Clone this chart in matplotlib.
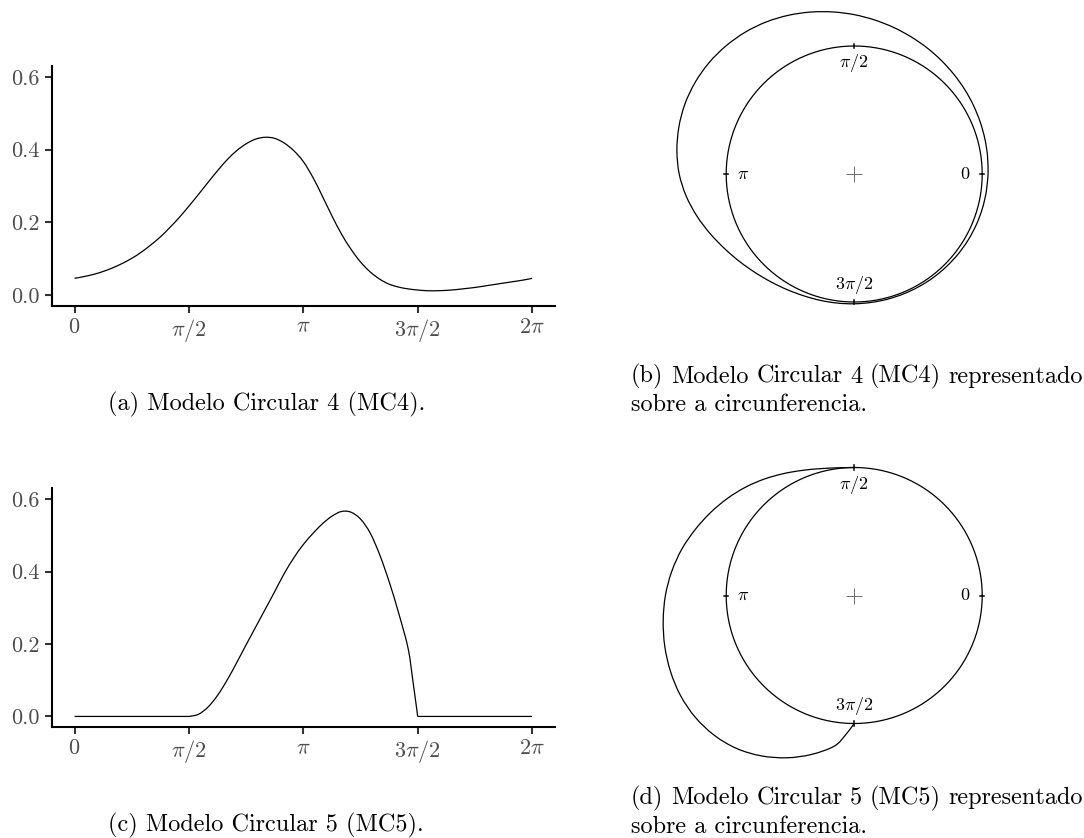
import numpy as np
import matplotlib
matplotlib.use("Agg")
import matplotlib.pyplot as plt
from matplotlib.path import Path
from matplotlib.patches import PathPatch

plt.rcParams['font.family'] = 'serif'
plt.rcParams['font.serif'] = ['cmr10']
plt.rcParams['mathtext.fontset'] = 'cm'
plt.rcParams['axes.formatter.use_mathtext'] = True

# densidades (angulo em radianos)
theta_mc4 = [0.000, 0.131, 0.262, 0.393, 0.524, 0.654, 0.785, 0.916, 1.047, 1.178,
             1.309, 1.440, 1.571, 1.702, 1.833, 1.963, 2.094, 2.225, 2.356, 2.487,
             2.618, 2.749, 2.880, 3.011, 3.142, 3.272, 3.403, 3.534, 3.665, 3.796,
             3.927, 4.058, 4.189, 4.320, 4.451, 4.581, 4.712, 4.843, 4.974, 5.105,
             5.236, 5.367, 5.498, 5.629, 5.760, 5.890, 6.021, 6.152, 6.283]
dens_mc4 = [0.046, 0.051, 0.057, 0.065, 0.075, 0.087, 0.101, 0.118, 0.138, 0.160,
            0.186, 0.214, 0.245, 0.277, 0.310, 0.342, 0.372, 0.397, 0.416, 0.429,
            0.434, 0.431, 0.418, 0.397, 0.367, 0.324, 0.272, 0.218, 0.168, 0.126,
            0.091, 0.064, 0.044, 0.030, 0.022, 0.017, 0.014, 0.012, 0.012, 0.013,
            0.015, 0.018, 0.021, 0.025, 0.029, 0.033, 0.037, 0.041, 0.046]

theta_mc5 = [0.000, 1.571, 1.702, 1.833, 1.963, 2.094, 2.225, 2.356, 2.487, 2.618,
             2.749, 2.880, 3.011, 3.142, 3.272, 3.403, 3.534, 3.665, 3.796, 3.927,
             4.058, 4.189, 4.320, 4.451, 4.581, 4.650, 4.712, 6.283]
dens_mc5 = [0.000, 0.000, 0.006, 0.026, 0.058, 0.100, 0.148, 0.198, 0.247, 0.296,
            0.345, 0.395, 0.438, 0.475, 0.505, 0.532, 0.553, 0.566, 0.564, 0.545,
            0.507, 0.447, 0.372, 0.285, 0.187, 0.092, 0.000, 0.000]

xticks = [0, np.pi / 2, np.pi, 3 * np.pi / 2, 2 * np.pi]
xticklabels = [r'$0$', r'$\pi/2$', r'$\pi$', r'$3\pi/2$', r'$2\pi$']
yticks = [0.0, 0.2, 0.4, 0.6]
yticklabels = ['0.0', '0.2', '0.4', '0.6']
circ_angles = [0, np.pi / 2, np.pi, 3 * np.pi / 2]
circ_labels = [r'$0$', r'$\pi/2$', r'$\pi$', r'$3\pi/2$']

captions = ['(a) Modelo Circular 4 (MC4).',
            '(b) Modelo Circular 4 (MC4) representado\nsobre a circunferencia.',
            '(c) Modelo Circular 5 (MC5).',
            '(d) Modelo Circular 5 (MC5) representado\nsobre a circunferencia.']

W, H = 1084, 838
fig = plt.figure(figsize=(W / 100, H / 100), dpi=100)


def px_axes(x0, y0, x1, y1):
    return fig.add_axes([x0 / W, 1 - y1 / H, (x1 - x0) / W, (y1 - y0) / H])


def trechos(th, d):
    # parte a serie nos pontos de densidade nula
    th, d = np.asarray(th), np.asarray(d)
    cortes = [0] + [i for i in range(1, len(d) - 1) if d[i] == 0] + [len(d) - 1]
    for a, b in zip(cortes[:-1], cortes[1:]):
        yield th[a:b + 1], d[a:b + 1]


def curva(ax, x, y, **kw):
    p = np.column_stack([x, y])
    n = len(p)
    verts, codes = [p[0]], [Path.MOVETO]
    for i in range(n - 1):
        pa = p[i - 1] if i > 0 else p[i]
        pb = p[i + 2] if i + 2 < n else p[i + 1]
        verts += [p[i] + (p[i + 1] - pa) / 6, p[i + 1] - (pb - p[i]) / 6, p[i + 1]]
        codes += [Path.CURVE4] * 3
    ax.add_patch(PathPatch(Path(verts, codes), fill=False, **kw))


def densidade(ax, th, d):
    for t, v in trechos(th, d):
        curva(ax, t, v, edgecolor='black', lw=0.9)
    ax.set_xlim(-0.05 * 2 * np.pi, 2 * np.pi * 1.05)
    ax.set_ylim(-0.03, 0.63)
    ax.set_xticks(xticks)
    ax.set_xticklabels(xticklabels)
    ax.set_yticks(yticks)
    ax.set_yticklabels(yticklabels)
    for s in ('top', 'right'):
        ax.spines[s].set_visible(False)
    for s in ('left', 'bottom'):
        ax.spines[s].set_linewidth(1.5)
        ax.spines[s].set_color('black')
    ax.tick_params(length=5, width=1.5, color='#333333', labelcolor='#4D4D4D',
                   labelsize=16)
    ax.tick_params(axis='y', pad=3.5)
    ax.tick_params(axis='x', pad=3)
    ax.patch.set_visible(False)


def circular(ax, th, d):
    circ = np.linspace(0, 2 * np.pi, 721)
    ax.plot(np.cos(circ), np.sin(circ), color='black', lw=0.9)
    for t, v in trechos(th, d):
        if np.all(v == 0):
            continue
        r = 1 + v
        curva(ax, r * np.cos(t), r * np.sin(t), edgecolor='black', lw=0.9)
    for a, lab in zip(circ_angles, circ_labels):
        ax.plot([0.984 * np.cos(a), 1.016 * np.cos(a)],
                [0.984 * np.sin(a), 1.016 * np.sin(a)], color='black', lw=1.1)
        ax.text(0.865 * np.cos(a), 0.865 * np.sin(a), lab, ha='center', va='center',
                fontsize=13)
    ax.plot([0], [0], marker='+', color='#555555', ms=11, mew=0.6)
    ax.set_xlim(-1.8, 1.8)
    ax.set_ylim(-1.8, 1.8)
    ax.axis('off')


ax_a = px_axes(51.7, 66, 555, 306)
densidade(ax_a, theta_mc4, dens_mc4)
ax_c = px_axes(51.7, 488.3, 555, 727.3)
densidade(ax_c, theta_mc5, dens_mc5)

R = 1.8 * 128
ax_b = px_axes(854.2 - R, 174 - R, 854.2 + R, 174 + R)
circular(ax_b, theta_mc4, dens_mc4)
ax_d = px_axes(854.2 - R, 595.5 - R, 854.2 + R, 595.5 + R)
circular(ax_d, theta_mc5, dens_mc5)

fs = 17.5
renderer = fig.canvas.get_renderer()


def justificada(x0, x1, y, linha):
    palavras = linha.split(' ')
    ts = [fig.text(0, 1 - y / H, p, ha='left', va='baseline', fontsize=fs) for p in palavras]
    larg = [t.get_window_extent(renderer).width for t in ts]
    gap = (x1 - x0 - sum(larg)) / (len(palavras) - 1)
    x = x0
    for t, w in zip(ts, larg):
        t.set_x(x / W)
        x += w + gap


fig.text(108 / W, 1 - 410 / H, captions[0], ha='left', va='baseline', fontsize=fs)
fig.text(108 / W, 1 - 831.5 / H, captions[2], ha='left', va='baseline', fontsize=fs)
for cap, y in ((captions[1], 382.5), (captions[3], 804)):
    l1, l2 = cap.split('\n')
    justificada(631, 1083, y, l1)
    fig.text(631 / W, 1 - (y + 28.5) / H, l2, ha='left', va='baseline', fontsize=fs)

fig.savefig('out.png', dpi=100)
